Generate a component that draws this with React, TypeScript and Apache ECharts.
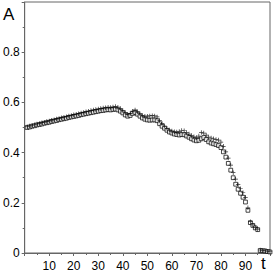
import React, { useEffect, useRef } from "react";
import * as echarts from "echarts";

const tValues: number[] = Array.from({ length: 100 }, (_, i) => i + 1);

const squareSeries: number[] = [
  0.500, 0.502, 0.505, 0.507, 0.510, 0.512, 0.514, 0.517, 0.519, 0.521,
  0.524, 0.526, 0.528, 0.531, 0.533, 0.535, 0.537, 0.540, 0.542, 0.544,
  0.546, 0.548, 0.551, 0.553, 0.555, 0.557, 0.559, 0.561, 0.563, 0.565,
  0.567, 0.568, 0.570, 0.571, 0.570, 0.572, 0.573, 0.570, 0.565, 0.558,
  0.550, 0.545, 0.548, 0.556, 0.560, 0.553, 0.545, 0.538, 0.533, 0.530,
  0.529, 0.530, 0.530, 0.527, 0.515, 0.505, 0.497, 0.489, 0.482, 0.478,
  0.474, 0.472, 0.470, 0.472, 0.471, 0.466, 0.461, 0.455, 0.450, 0.447,
  0.449, 0.455, 0.460, 0.452, 0.443, 0.438, 0.435, 0.432, 0.428, 0.420,
  0.403, 0.382, 0.357, 0.330, 0.300, 0.274, 0.254, 0.238, 0.222, 0.203,
  0.170, 0.121, 0.110, 0.100, 0.093, 0.010, 0.009, 0.008, 0.006, 0.004,
];

const plusSeries: number[] = [
  0.503, 0.506, 0.509, 0.511, 0.514, 0.516, 0.519, 0.521, 0.524, 0.526,
  0.529, 0.531, 0.534, 0.536, 0.539, 0.541, 0.543, 0.546, 0.548, 0.551,
  0.553, 0.555, 0.558, 0.560, 0.563, 0.565, 0.568, 0.570, 0.572, 0.574,
  0.576, 0.578, 0.579, 0.581, 0.580, 0.582, 0.584, 0.581, 0.576, 0.568,
  0.560, 0.553, 0.556, 0.565, 0.570, 0.563, 0.555, 0.548, 0.545, 0.545,
  0.546, 0.547, 0.546, 0.542, 0.528, 0.516, 0.506, 0.497, 0.490, 0.486,
  0.483, 0.482, 0.484, 0.488, 0.487, 0.480, 0.474, 0.468, 0.463, 0.460,
  0.466, 0.480, 0.478, 0.470, 0.462, 0.458, 0.455, 0.452, 0.450, 0.442,
  0.425, 0.403, 0.378, 0.350, 0.320, 0.294, 0.272, 0.256, 0.240, 0.222,
  0.180, 0.125, 0.112, 0.102, 0.095, 0.012, 0.010, 0.009, 0.007, 0.005,
];

const xTickLabels: number[] = [10, 20, 30, 40, 50, 60, 70, 80, 90];
const yTickLabels: string[] = ["0", "0.2", "0.4", "0.6", "0.8"];
const xAxisName = "t";
const yAxisName = "A";

const FONT = "'Liberation Sans', Arial, sans-serif";
const AXIS_COLOR = "#666666";

export default function App() {
  const ref = useRef<HTMLDivElement>(null);

  useEffect(() => {
    if (!ref.current) return;
    const chart = echarts.init(ref.current, undefined, { renderer: "svg" });
    const squares = tValues.map((t, i) => [t, squareSeries[i]]);
    const pluses = tValues.map((t, i) => [t, plusSeries[i]]);
    chart.setOption({
      animation: false,
      backgroundColor: "#ffffff",
      grid: {
        left: 22,
        right: 2,
        top: 2,
        bottom: 25,
        show: true,
        borderColor: AXIS_COLOR,
        borderWidth: 1,
        backgroundColor: "transparent",
      },
      xAxis: {
        type: "value",
        min: 0,
        max: 100,
        interval: 10,
        axisLine: { show: true, lineStyle: { color: AXIS_COLOR, width: 1 } },
        axisTick: { show: true, length: 3, lineStyle: { color: AXIS_COLOR } },
        minorTick: { show: true, splitNumber: 2, length: 2, lineStyle: { color: AXIS_COLOR } },
        splitLine: { show: false },
        axisLabel: {
          margin: 7,
          color: "#000",
          fontSize: 12,
          fontFamily: FONT,
          formatter: (v: number) => (xTickLabels.includes(v) ? String(v) : ""),
        },
      },
      yAxis: {
        type: "value",
        min: 0,
        max: 1,
        interval: 0.2,
        axisLine: { show: true, lineStyle: { color: AXIS_COLOR, width: 1 } },
        axisTick: { show: true, length: 3, lineStyle: { color: AXIS_COLOR } },
        minorTick: { show: true, splitNumber: 2, length: 2, lineStyle: { color: AXIS_COLOR } },
        splitLine: { show: false },
        axisLabel: {
          margin: 5,
          color: "#000",
          fontSize: 12,
          fontFamily: FONT,
          formatter: (v: number) => {
            const s = String(Math.round(v * 10) / 10);
            return yTickLabels.includes(s) ? s : "";
          },
        },
      },
      graphic: [
        {
          type: "text",
          left: 3,
          top: 6,
          style: { text: yAxisName, font: `17px ${FONT}`, fill: "#000" },
        },
        {
          type: "text",
          left: 261,
          top: 255,
          style: { text: xAxisName, font: `17px ${FONT}`, fill: "#000" },
        },
      ],
      series: [
        {
          type: "scatter",
          data: squares,
          symbol: "rect",
          symbolSize: 3.8,
          itemStyle: { color: "#ffffff", borderColor: "#000", borderWidth: 0.9 },
        },
        {
          type: "scatter",
          data: pluses,
          symbol: "path://M0.42,0H0.58V1H0.42Z M0,0.42H1V0.58H0Z",
          symbolSize: 4.5,
          itemStyle: { color: "#000" },
        },
      ],
    });
    return () => chart.dispose();
  }, []);

  return (
    <div
      ref={ref}
      style={{ position: "absolute", left: 0, top: 0, width: 273, height: 278 }}
    />
  );
}
